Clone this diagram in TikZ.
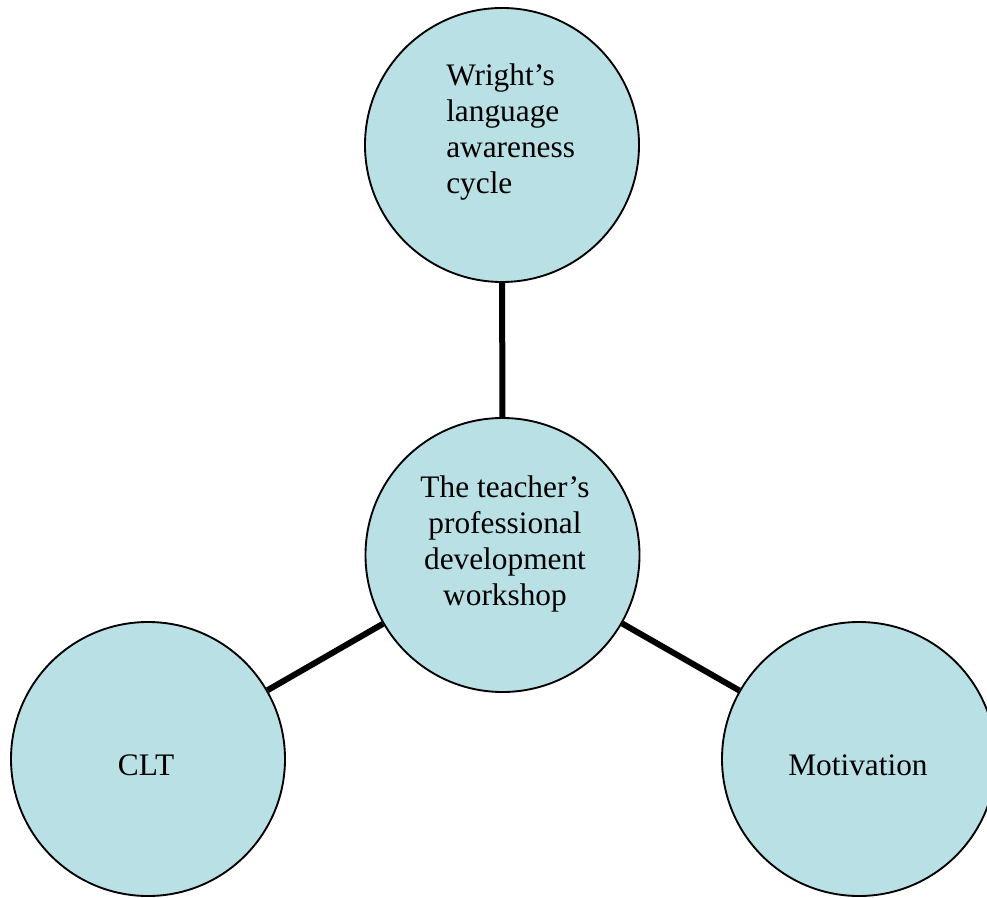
\documentclass[tikz,border=0pt]{standalone}
\usepackage{fontspec}
\setmainfont{Liberation Serif}
\usepackage{tikz}
\usetikzlibrary{positioning}
\definecolor{bubfill}{HTML}{B9E0E4}

\begin{document}
\begin{tikzpicture}[x=0.75pt, y=0.75pt,
        bub/.style={circle, draw=black, line width=1.4pt, fill=bubfill,
                    minimum size=205.5pt, inner sep=0pt},
        lbl/.style={inner sep=0pt, font=\fontsize{23.5}{27}\selectfont},
        link/.style={line width=4.5pt, black}]
        \useasboundingbox (0,0) rectangle (987,897);
        \clip (0,0) rectangle (987,897);
        \node[bub] (wright) at (502,752)   {};
        \node[bub] (work)   at (502.5,342) {};
        \node[bub] (clt)    at (148,138)   {};
        \node[bub] (motiv)  at (859,138)   {};
        \draw[link] (wright) -- (work);
        \draw[link] (clt)    -- (work);
        \draw[link] (motiv)  -- (work);
        \node[lbl, align=left, anchor=north west] (wright-t) at (446,834)
            {Wright’s\\language\\awareness\\cycle};
        \node[lbl, align=center, anchor=north] (work-t) at (505,421.5)
            {The teacher’s\\professional\\development\\workshop};
        \node[lbl, anchor=base] (clt-t)   at (146,122) {CLT};
        \node[lbl, anchor=base] (motiv-t) at (858,122) {Motivation};
    \end{tikzpicture}
\end{document}
